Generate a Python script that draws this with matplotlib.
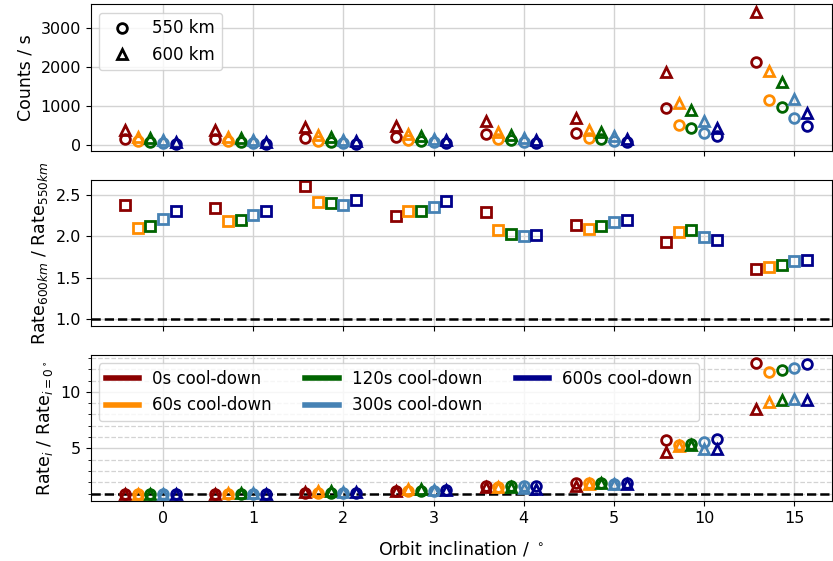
import numpy as np
import matplotlib
matplotlib.use("Agg")
import matplotlib.pyplot as plt
from matplotlib.lines import Line2D
from matplotlib.ticker import MultipleLocator

# orbit inclinations (degrees) and cool-down times (s)
inclinations = [0, 1, 2, 3, 4, 5, 10, 15]
cooldowns = [0, 60, 120, 300, 600]
colors = ['darkred', 'darkorange', 'darkgreen', 'steelblue', 'darkblue']

# count rate at 550 km, one row per inclination, one column per cool-down
rate_550 = np.array([
    [169, 99, 82, 57, 39],
    [168, 98, 82, 57, 39],
    [176, 104, 87, 60, 41],
    [214, 125, 104, 72, 50],
    [276, 161, 134, 93, 64],
    [322, 188, 156, 108, 74],
    [968, 525, 442, 315, 229],
    [2128, 1162, 982, 692, 487],
])

# rate ratio 600 km / 550 km
ratio_alt = np.array([
    [2.38, 2.10, 2.12, 2.21, 2.31],
    [2.34, 2.18, 2.20, 2.26, 2.31],
    [2.61, 2.42, 2.40, 2.38, 2.44],
    [2.25, 2.31, 2.31, 2.35, 2.43],
    [2.29, 2.07, 2.03, 2.00, 2.02],
    [2.14, 2.09, 2.12, 2.17, 2.20],
    [1.93, 2.05, 2.07, 1.99, 1.96],
    [1.61, 1.63, 1.65, 1.70, 1.71],
])

rate_600 = rate_550 * ratio_alt
rel_550 = rate_550 / rate_550[0]
rel_600 = rate_600 / rate_600[0]

xpos = np.arange(len(inclinations))
offsets = [-0.42, -0.28, -0.14, 0.0, 0.14]

fig = plt.figure(figsize=(8.33, 5.61), dpi=100)
ax1 = fig.add_axes([0.109, 0.731, 0.89, 0.261])
ax2 = fig.add_axes([0.109, 0.419, 0.89, 0.260], sharex=ax1)
ax3 = fig.add_axes([0.109, 0.107, 0.89, 0.260], sharex=ax1)

mk = dict(linestyle='none', markerfacecolor='none', markersize=7, markeredgewidth=2)

for j, c in enumerate(colors):
    x = xpos + offsets[j]
    ax1.plot(x, rate_550[:, j], marker='o', color=c, **mk)
    ax1.plot(x, rate_600[:, j], marker='^', color=c, **mk)
    ax2.plot(x, ratio_alt[:, j], marker='s', color=c, **mk)
    ax3.plot(x, rel_550[:, j], marker='o', color=c, **mk)
    ax3.plot(x, rel_600[:, j], marker='^', color=c, **mk)

ax2.axhline(1.0, color='black', ls='--', lw=1.8, zorder=1.5)
ax3.axhline(1.0, color='black', ls='--', lw=1.8, zorder=1.5)

for ax in (ax1, ax2, ax3):
    ax.grid(True, color='lightgrey', lw=1)
    ax.set_axisbelow(True)
    ax.tick_params(labelsize=11.5)
ax3.yaxis.set_major_locator(MultipleLocator(5))
ax3.yaxis.set_minor_locator(MultipleLocator(1))
ax3.grid(True, which='minor', axis='y', color='lightgrey', ls='--', lw=0.9)

ax1.set_xlim(-0.8, 7.42)
ax1.set_ylim(-146, 3615)
ax2.set_ylim(0.915, 2.68)
ax3.set_ylim(0.35, 13.25)
ax3.set_xticks(xpos)
ax3.set_xticklabels([str(i) for i in inclinations])
plt.setp(ax1.get_xticklabels(), visible=False)
plt.setp(ax2.get_xticklabels(), visible=False)

ax1.set_ylabel('Counts / s', fontsize=12.5)
ax2.set_ylabel(r'Rate$_{600km}$ / Rate$_{550km}$', fontsize=12.5)
ax3.set_ylabel(r'Rate$_i$ / Rate$_{i=0^\circ}$', fontsize=12.5)
ax3.set_xlabel(r'Orbit inclination / $^\circ$', fontsize=12.5, labelpad=10)
fig.align_ylabels([ax1, ax2, ax3])

alt_handles = [Line2D([], [], marker='o', color='black', **mk),
               Line2D([], [], marker='^', color='black', **mk)]
ax1.legend(alt_handles, ['550 km', '600 km'], loc='upper left', fontsize=12)

cd_handles = [Line2D([], [], color=c, lw=4) for c in colors]
ax3.legend(cd_handles, [f'{t}s cool-down' for t in cooldowns], loc='upper left',
           ncol=3, fontsize=12)

fig.savefig('out.png', dpi=100)
